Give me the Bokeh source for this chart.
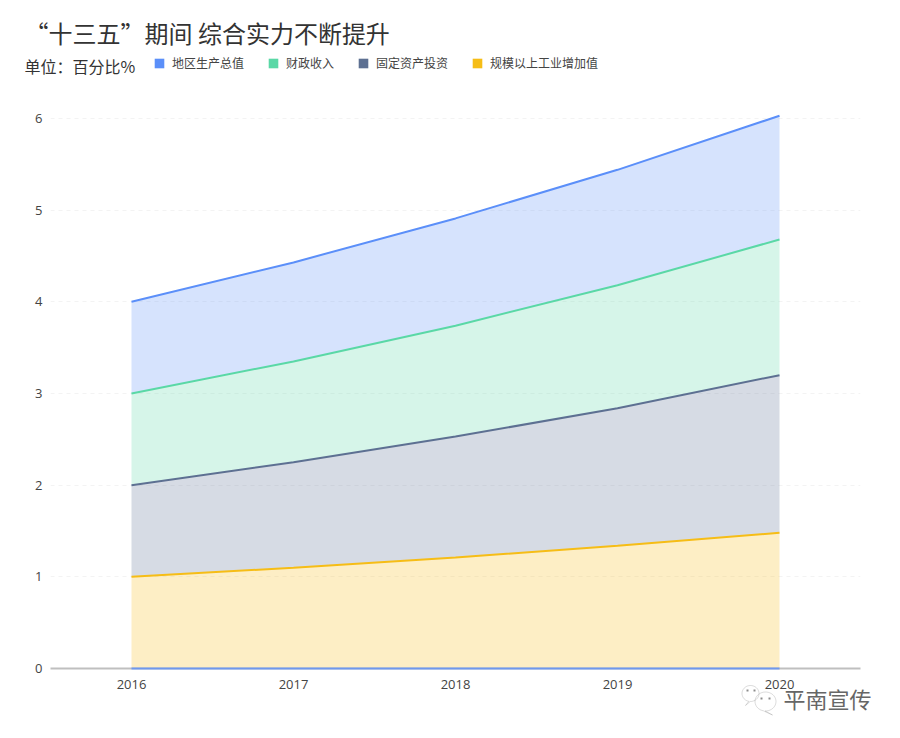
import numpy as np
from bokeh.plotting import figure
from bokeh.layouts import column
from bokeh.models import (ColumnDataSource, Range1d, FixedTicker, Label, Legend, LegendItem,
                          PolyAnnotation)
from bokeh.embed import file_html
from bokeh.resources import INLINE

years = [2016, 2017, 2018, 2019, 2020]
ticks_y = [0, 1, 2, 3, 4, 5, 6]
industry = [1.00, 1.10, 1.21, 1.34, 1.48]
investment = [1.00, 1.15, 1.32, 1.50, 1.72]
revenue = [1.00, 1.10, 1.21, 1.34, 1.48]
gdp = [1.00, 1.08, 1.17, 1.26, 1.35]

names = ["规模以上工业增加值", "固定资产投资", "财政收入", "地区生产总值"]
colors = ["#F6BD16", "#5D7092", "#5AD8A6", "#5B8FF9"]
series = [industry, investment, revenue, gdp]

CJK = "Noto Sans CJK SC"
W, H = 892, 730

p = figure(width=W, height=H, output_backend="svg", toolbar_location=None,
           x_range=Range1d(2015.5, 2020.5), y_range=Range1d(0, 6.109), frame_align=False,
           min_border_left=50, min_border_right=32, min_border_top=108, min_border_bottom=62)
p.outline_line_color = None
p.background_fill_color = "white"
p.xgrid.visible = False
p.ygrid.ticker = FixedTicker(ticks=ticks_y)
p.ygrid.grid_line_color = "#f3f3f3"
p.ygrid.grid_line_dash = "4 4"
p.ygrid.grid_line_width = 1

p.xaxis.ticker = FixedTicker(ticks=years)
p.yaxis.ticker = FixedTicker(ticks=ticks_y)
p.yaxis.axis_line_color = None
p.xaxis.axis_line_color = "#bfbfbf"
p.xaxis.axis_line_width = 2
for ax in (p.xaxis, p.yaxis):
    ax.major_tick_line_color = None
    ax.minor_tick_line_color = None
    ax.major_label_text_font = "Open Sans"
    ax.major_label_text_font_size = "13px"
    ax.major_label_text_color = "#444444"
p.xaxis.major_label_standoff = 5
p.yaxis.major_label_standoff = 2

base = np.zeros(len(years))
for vals, color in zip(series, colors):
    top = base + np.array(vals)
    src = ColumnDataSource(dict(x=years, y1=base, y2=top))
    p.varea(x="x", y1="y1", y2="y2", source=src, fill_color=color, fill_alpha=0.25)
    base = top

base = np.zeros(len(years))
p.line(years, base, line_color="#5B8FF9", line_width=2, line_alpha=0.8, level="overlay")
for vals, color in zip(series, colors):
    base = base + np.array(vals)
    p.line(years, base, line_color=color, line_width=2)

# full-page transparent sheet for the title, the legend and the watermark
o = figure(width=W, height=H, output_backend="svg", toolbar_location=None, frame_align=False,
           x_range=Range1d(0, W), y_range=Range1d(0, H), margin=(-H, 0, 0, 0),
           min_border=0, background_fill_alpha=0, border_fill_alpha=0)
o.axis.visible = False
o.grid.visible = False
o.outline_line_color = None

nan = float("nan")
items = []
for name, color in zip(reversed(names), reversed(colors)):
    r = o.quad(left=[nan], right=[nan], top=[nan], bottom=[nan], fill_color=color, line_color=None)
    items.append(LegendItem(label=name, renderers=[r], index=0))
legend = Legend(items=items, orientation="horizontal", location=(153, H - 64 - 7),
                border_line_color=None, background_fill_alpha=0, padding=0, margin=0,
                spacing=23, label_standoff=7, glyph_width=12, glyph_height=12,
                label_text_font=CJK, label_text_font_size="12px", label_text_color="#444444",
                label_height=14)
o.add_layout(legend, "center")

def screen_label(px, py, text, size, color):
    return Label(x=px, y=H - py, x_units="screen", y_units="screen", text=text,
                 text_font=CJK, text_font_size=size, text_color=color, text_baseline="middle")

o.add_layout(screen_label(24, 32, "“十三五”期间 综合实力不断提升", "24px", "#333333"))
o.add_layout(screen_label(24, 65, "单位：百分比%", "16px", "#333333"))

def bubble(cx, cy, rx, ry, tail):
    t = np.linspace(0, 2 * np.pi, 40)
    xs = list(cx + rx * np.cos(t))
    ys = list(H - cy + ry * np.sin(t))
    i = int(np.argmin(np.abs(t - 1.5 * np.pi)))
    xs.insert(i, cx + tail)
    ys.insert(i, H - cy - ry - 4)
    return PolyAnnotation(xs=xs, ys=ys, xs_units="screen", ys_units="screen",
                          fill_alpha=0, line_color="#8c8c8c", line_width=1)

def eye(cx, cy):
    return PolyAnnotation(xs=[cx - 1, cx + 1, cx + 1, cx - 1],
                          ys=[H - cy - 1, H - cy - 1, H - cy + 1, H - cy + 1],
                          xs_units="screen", ys_units="screen",
                          fill_color="#8c8c8c", fill_alpha=1, line_alpha=0)

o.add_layout(bubble(750, 693, 8.5, 8, -5))
o.add_layout(bubble(765, 701, 10.5, 9.5, 7))
for ex, ey in [(747, 690), (754, 690), (761, 698), (769, 698)]:
    o.add_layout(eye(ex, ey))
o.add_layout(screen_label(783, 697, "平南宣传", "22px", "#666666"))

open("out.html", "w").write(file_html(column(p, o), INLINE))
